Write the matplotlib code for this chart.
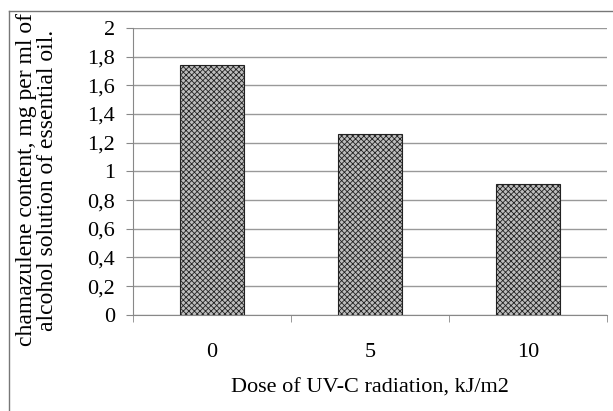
import numpy as np
import matplotlib.pyplot as plt
from matplotlib.ticker import FuncFormatter, MultipleLocator
from matplotlib.lines import Line2D

# data
doses = ['0', '5', '10']
chamazulene = [1.74, 1.26, 0.91]

plt.rcParams['font.family'] = ['Liberation Serif', 'DejaVu Serif']
plt.rcParams['hatch.color'] = '#3a3a3a'
plt.rcParams['hatch.linewidth'] = 0.6

fig = plt.figure(figsize=(6.13, 4.11), dpi=100)
ax = fig.add_axes([0.217, 0.234, 0.773, 0.698])

x = np.arange(len(doses))
ax.bar(x, chamazulene, width=0.405, color='#bdbdbd', hatch='xxxxxx',
       edgecolor='#222222', linewidth=0.8, zorder=3)

ax.set_xlim(-0.5, len(doses) - 0.5)
ax.set_ylim(0, 2)
ax.yaxis.set_major_locator(MultipleLocator(0.2))
ax.yaxis.set_major_formatter(FuncFormatter(lambda v, p: ('%g' % round(v, 1)).replace('.', ',')))
ax.set_xticks(x)
ax.set_xticklabels(doses)
# category boundary tick marks
ax.set_xticks(np.arange(-0.5, len(doses)), minor=True)
ax.tick_params(axis='x', which='major', length=0, pad=20, labelsize=16)
ax.tick_params(axis='x', which='minor', length=5, color='#888888', direction='out')
ax.tick_params(axis='y', length=5, color='#888888', labelsize=16, pad=8)

ax.grid(axis='y', color='#999999', linewidth=1.0, zorder=0)
for s in ['top', 'right']:
    ax.spines[s].set_visible(False)
ax.spines['left'].set_color('#888888')
ax.spines['bottom'].set_color('#888888')

ax.set_xlabel('Dose of UV-C radiation, kJ/m2', fontsize=16, labelpad=12)
ax.set_ylabel('chamazulene content, mg per ml of\nalcohol solution of essential oil.',
              fontsize=17, linespacing=1.0)
ax.yaxis.set_label_coords(-0.158, 0.47)

# outer frame of the chart
fig.add_artist(Line2D([9/613, 9/613], [0, 1 - 11/411], color='#777777', linewidth=1.0))
fig.add_artist(Line2D([9/613, 1], [1 - 11/411, 1 - 11/411], color='#777777', linewidth=1.0))

fig.savefig('out.png', dpi=100)
